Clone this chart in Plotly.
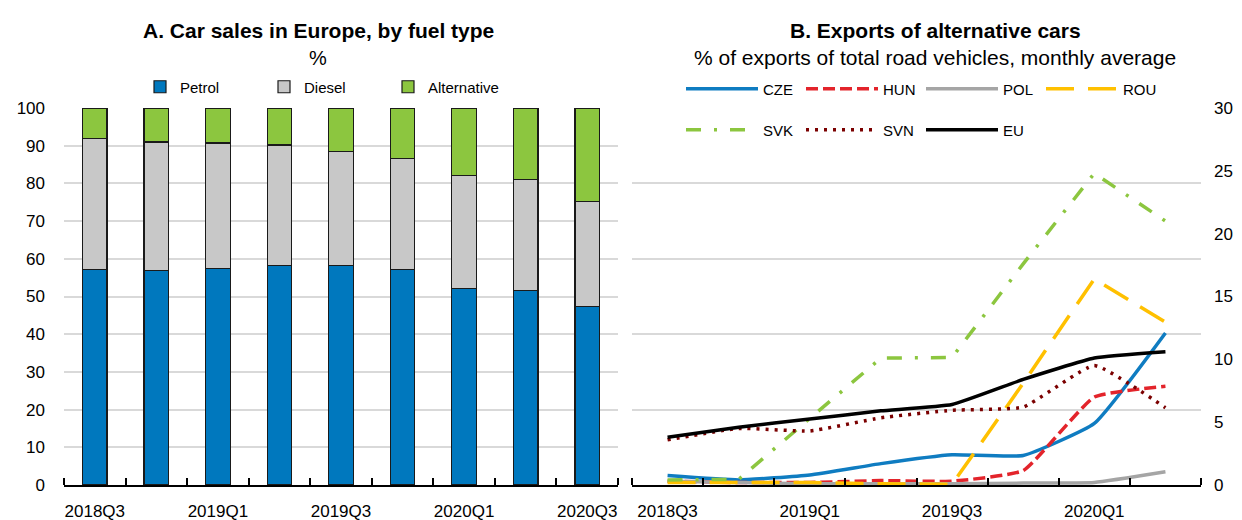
import plotly.graph_objects as go

# Panel A: car sales shares (%)
quarters_a = ["2018Q3", "2018Q4", "2019Q1", "2019Q2", "2019Q3", "2019Q4", "2020Q1", "2020Q2", "2020Q3"]
petrol = [57.2, 56.9, 57.5, 58.2, 58.3, 57.1, 52.1, 51.6, 47.4]
diesel = [34.7, 34.1, 33.2, 32.0, 30.1, 29.5, 29.9, 29.5, 27.8]
alternative = [8.1, 9.0, 9.3, 9.8, 11.6, 13.4, 18.0, 18.9, 24.8]

# Panel B: exports of alternative cars (% of road vehicle exports)
quarters_b = ["2018Q3", "2018Q4", "2019Q1", "2019Q2", "2019Q3", "2019Q4", "2020Q1", "2020Q2"]
cze = [0.75, 0.4, 0.8, 1.7, 2.4, 2.35, 4.9, 12.1]
hun = [0.3, 0.2, 0.2, 0.35, 0.3, 1.15, 7.0, 7.85]
pol = [0.3, 0.2, 0.1, 0.1, 0.1, 0.15, 0.2, 1.05]
rou = [0.2, 0.2, 0.2, 0.1, 0.05, 8.1, 16.4, 12.95]
svk = [0.4, 0.45, 5.3, 10.1, 10.15, 17.6, 24.8, 21.0]
svn = [3.6, 4.5, 4.3, 5.35, 5.95, 6.2, 9.5, 6.15]
eu = [3.8, 4.6, 5.25, 5.9, 6.4, 8.4, 10.1, 10.6]

FONT = "Liberation Sans, Arial, sans-serif"
W, H = 1242, 520
# the page body shifts the figure by 8px; positions below are page pixels
OFF = 8


def fx(px):
    return (px - OFF) / W


def fy(py):
    return 1 - (py - OFF) / H


xa = list(range(len(quarters_a)))
xb = list(range(len(quarters_b)))

fig = go.Figure()

bar_style = dict(marker_line_color="#1a1a1a", marker_line_width=1.2, width=0.4,
                 xaxis="x", yaxis="y", legend="legend")
fig.add_trace(go.Bar(x=xa, y=petrol, name="Petrol", marker_color="#0078BE", **bar_style))
fig.add_trace(go.Bar(x=xa, y=diesel, name="Diesel", marker_color="#C8C8C8", **bar_style))
fig.add_trace(go.Bar(x=xa, y=alternative, name="Alternative", marker_color="#8CC63F", **bar_style))

lines = [
    ("CZE", cze, "#0F7CC1", "solid", "legend2", "spline"),
    ("HUN", hun, "#E3242B", "12px,5px", "legend2", "spline"),
    ("POL", pol, "#A5A5A5", "solid", "legend2", "spline"),
    ("ROU", rou, "#FFC000", "28px,14px", "legend2", "linear"),
    ("SVK", svk, "#8CC63F", "15px,13px,3px,13px", "legend3", "linear"),
    ("SVN", svn, "#7B0000", "3px,6px", "legend3", "spline"),
    ("EU", eu, "#000000", "solid", "legend3", "spline"),
]
for name, vals, color, dash, leg, shape in lines:
    fig.add_trace(go.Scatter(x=xb, y=vals, name=name, mode="lines",
                             line=dict(color=color, width=3.5, dash=dash, shape=shape, smoothing=0.4),
                             xaxis="x2", yaxis="y2", legend=leg))

# dummy trace so the right-hand label axis is drawn
fig.add_trace(go.Scatter(x=[None], y=[None], xaxis="x2", yaxis="y3", showlegend=False, hoverinfo="skip"))

ydom = [fy(485), fy(108)]
tickfont = dict(family=FONT, size=17, color="black")
legfont = dict(family=FONT, size=15, color="black")
minor_ticks = dict(tick0=-0.5, dtick=1, ticks="inside", ticklen=7, tickcolor="black", tickwidth=1.5, showgrid=False)

fig.update_layout(
    width=W, height=H,
    margin=dict(l=0, r=0, t=0, b=0, autoexpand=False),
    paper_bgcolor="white", plot_bgcolor="white",
    barmode="stack",
    font=dict(family=FONT, color="black"),
    xaxis=dict(domain=[fx(64), fx(618)], range=[-0.5, 8.5], tickvals=xa[::2], ticktext=quarters_a[::2],
               ticks="", showline=True, linecolor="black", linewidth=2, showgrid=False, zeroline=False,
               tickfont=tickfont, ticklabelstandoff=10, minor=minor_ticks),
    yaxis=dict(domain=ydom, range=[0, 100], dtick=10, showgrid=True, gridcolor="#D9D9D9", gridwidth=2,
               zeroline=False, showline=False, ticks="", tickfont=tickfont, ticklabelstandoff=18),
    xaxis2=dict(domain=[fx(632), fx(1201)], range=[-0.5, 7.5], tickvals=xb[::2], ticktext=quarters_b[::2],
                ticks="", showline=True, linecolor="black", linewidth=2, showgrid=False, zeroline=False,
                tickfont=tickfont, ticklabelstandoff=10, anchor="y2", minor=minor_ticks),
    yaxis2=dict(domain=ydom, range=[0, 30], dtick=6, showgrid=True, gridcolor="#D9D9D9", gridwidth=2,
                zeroline=False, showline=False, showticklabels=False, ticks="", anchor="x2"),
    yaxis3=dict(range=[0, 30], dtick=5, overlaying="y2", side="right", anchor="x2", showgrid=False,
                zeroline=False, showline=False, ticks="", tickfont=tickfont, ticklabelstandoff=12),
    legend=dict(orientation="h", x=fx(140), xanchor="left", y=fy(87), yanchor="middle",
                font=legfont, bgcolor="rgba(0,0,0,0)", entrywidth=79, traceorder="normal"),
    legend2=dict(orientation="h", x=fx(681), xanchor="left", y=fy(89), yanchor="middle",
                 font=legfont, bgcolor="rgba(0,0,0,0)", entrywidth=33, itemwidth=72),
    legend3=dict(orientation="h", x=fx(681), xanchor="left", y=fy(130), yanchor="middle",
                 font=legfont, bgcolor="rgba(0,0,0,0)", entrywidth=33, itemwidth=72),
    annotations=[
        dict(text="<b>A. Car sales in Europe, by fuel type</b>", x=fx(318), y=fy(31), xref="paper", yref="paper",
             showarrow=False, xanchor="center", yanchor="middle", font=dict(family=FONT, size=21, color="black")),
        dict(text="%", x=fx(318), y=fy(58), xref="paper", yref="paper",
             showarrow=False, xanchor="center", yanchor="middle", font=dict(family=FONT, size=20, color="black")),
        dict(text="<b>B. Exports of alternative cars</b>", x=fx(935), y=fy(31), xref="paper", yref="paper",
             showarrow=False, xanchor="center", yanchor="middle", font=dict(family=FONT, size=21, color="black")),
        dict(text="% of exports of total road vehicles, monthly average", x=fx(935), y=fy(58), xref="paper",
             yref="paper", showarrow=False, xanchor="center", yanchor="middle",
             font=dict(family=FONT, size=21, color="black")),
    ],
)

fig.write_html("out.html")
